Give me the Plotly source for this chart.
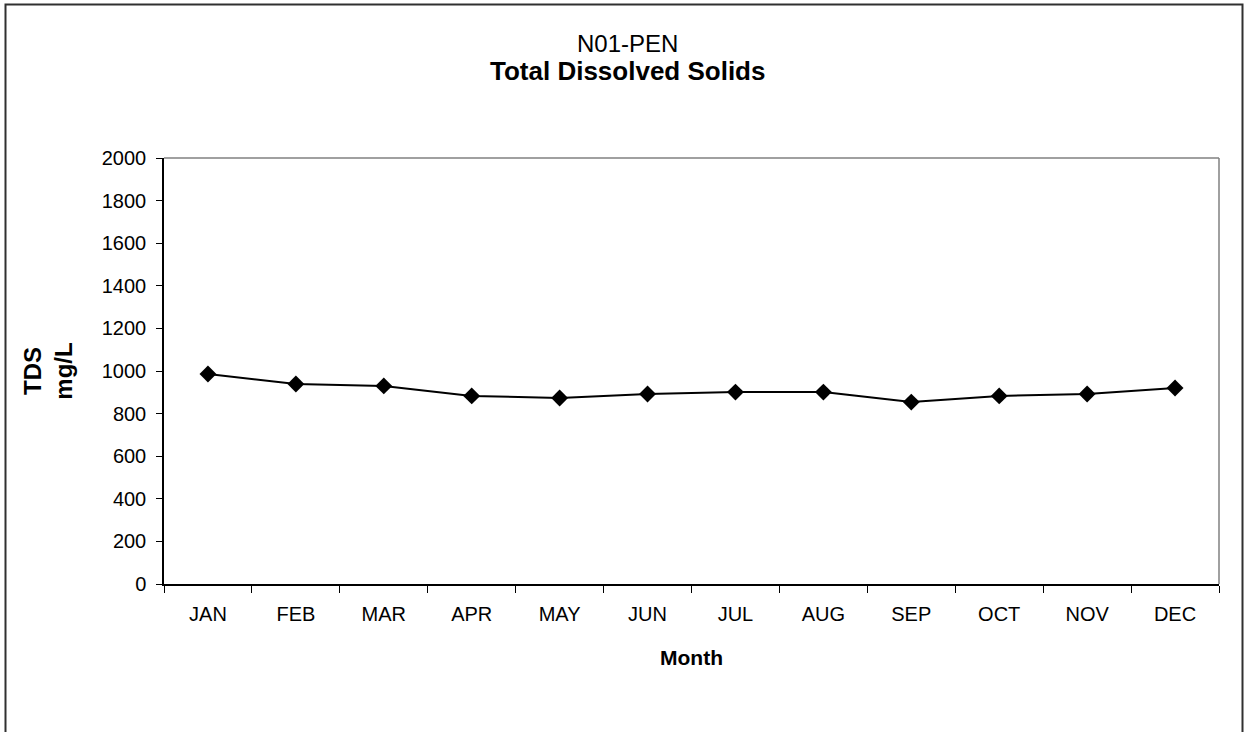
import plotly.graph_objects as go

months = ["JAN", "FEB", "MAR", "APR", "MAY", "JUN", "JUL", "AUG", "SEP", "OCT", "NOV", "DEC"]
tds = [986, 939, 930, 883, 873, 892, 901, 901, 854, 883, 892, 920]
y_ticks = [0, 200, 400, 600, 800, 1000, 1200, 1400, 1600, 1800, 2000]
title_line1 = "N01-PEN"
title_line2 = "Total Dissolved Solids"

FONT = "Liberation Sans, Arial, sans-serif"

fig = go.Figure()
fig.add_trace(go.Scatter(
    x=months, y=tds, mode="lines+markers",
    line=dict(color="black", width=2),
    marker=dict(symbol="diamond", size=13, color="black"),
    showlegend=False,
))

W, H = 1247, 732
L, R, T, B = 164, 28, 158, 148
pw, ph = W - L - R, H - T - B


def px_x(x):
    return (x - L) / pw


def px_y(y):
    return (H - B - y) / ph


fig.update_layout(
    width=W, height=H,
    margin=dict(l=L, r=R, t=T, b=B),
    paper_bgcolor="white", plot_bgcolor="white",
    font=dict(family=FONT, color="black", size=20),
    xaxis=dict(
        type="category", range=[-0.5, 11.5],
        tickson="boundaries", ticks="outside", ticklen=7, tickcolor="black",
        ticklabelstandoff=11,
        showline=True, linecolor="black", linewidth=1.5, mirror=False,
        showgrid=False, tickfont=dict(size=20),
        title=dict(text="<b>Month</b>", font=dict(size=21), standoff=27),
    ),
    yaxis=dict(
        range=[0, 2000], tickvals=y_ticks, ticks="outside", ticklen=6, tickcolor="black",
        ticklabelstandoff=6,
        showline=True, linecolor="black", linewidth=1.5,
        showgrid=False, zeroline=False, tickfont=dict(size=20),
        title=dict(text="<b>TDS<br>mg/L</b>", font=dict(size=24), standoff=22),
    ),
    annotations=[
        dict(text=title_line1, xref="paper", yref="paper", x=px_x(627), y=px_y(44),
             xanchor="center", yanchor="middle", showarrow=False,
             font=dict(size=24, family=FONT)),
        dict(text="<b>" + title_line2 + "</b>", xref="paper", yref="paper",
             x=px_x(627), y=px_y(71), xanchor="center", yanchor="middle", showarrow=False,
             font=dict(size=26, family=FONT)),
    ],
    shapes=[
        dict(type="line", xref="paper", yref="paper", x0=0, x1=1, y0=1, y1=1,
             line=dict(color="#808080", width=1.5)),
        dict(type="line", xref="paper", yref="paper", x0=1, x1=1, y0=0, y1=1,
             line=dict(color="#808080", width=1.5)),
        dict(type="rect", xref="paper", yref="paper",
             x0=px_x(5.5), x1=px_x(1242.5), y0=px_y(760), y1=px_y(4.5),
             line=dict(color="#303030", width=2), layer="below"),
    ],
)

fig.write_html("out.html", config={"displayModeBar": False},
               post_script="document.body.style.margin='0';")
